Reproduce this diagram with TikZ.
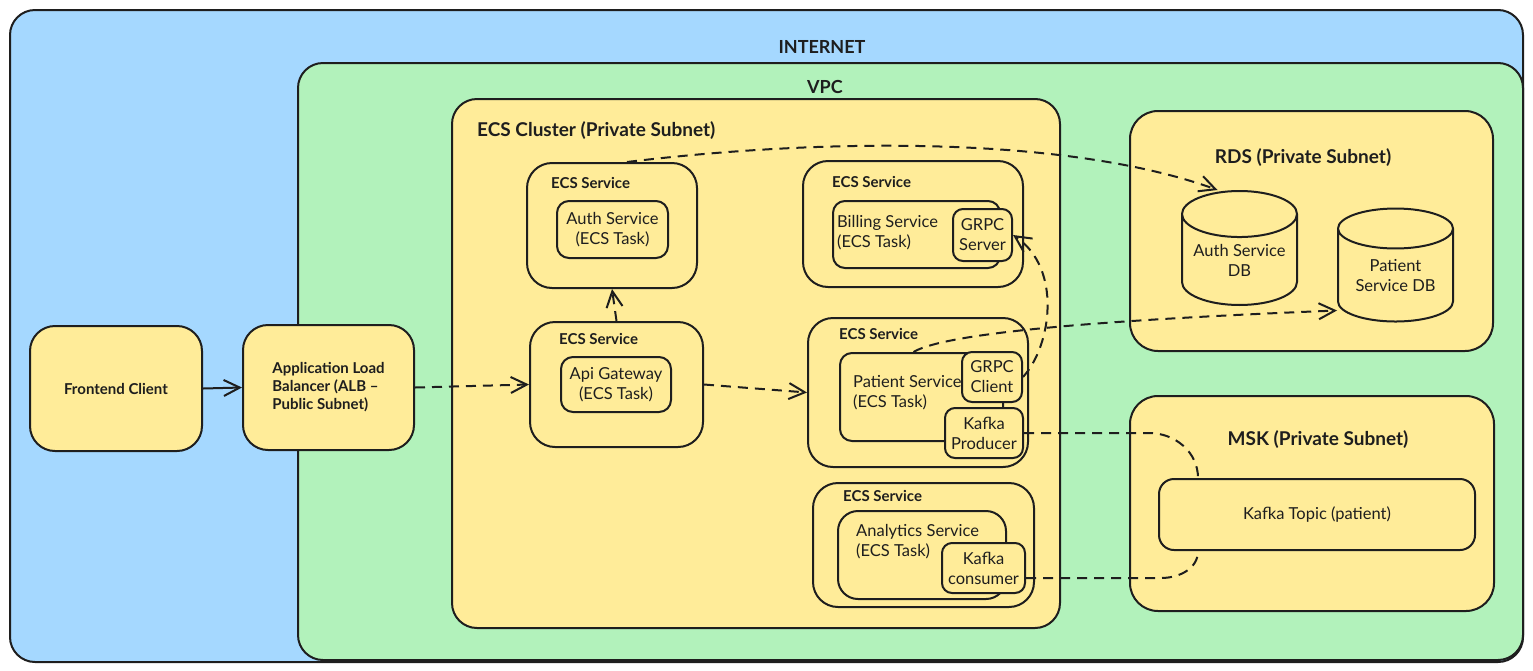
\documentclass[tikz,border=0pt]{standalone}
\usepackage{fontspec}
\setmainfont{Lato}
\usetikzlibrary{positioning, arrows.meta, shapes.geometric}
\definecolor{netblue}{HTML}{A5D8FF}
\definecolor{vpcgreen}{HTML}{B2F2BB}
\definecolor{zoneyellow}{HTML}{FFEC99}
\definecolor{ink}{HTML}{1E1E1E}

\begin{document}
\begin{tikzpicture}[x=1pt, y=-1pt, line join=round,
    box/.style={draw=ink, line width=2pt, fill=zoneyellow, rounded corners=#1,
      inner sep=0pt, align=center, text=ink, font=\fontsize{16.5}{20}\selectfont},
    box/.default=12pt,
    dbase/.style={cylinder, shape border rotate=90, aspect=0.5, draw=ink, line width=2pt,
      fill=zoneyellow, inner sep=0pt, align=center, text=ink, font=\fontsize{16.5}{20}\selectfont},
    heading/.style={inner sep=0pt, text=ink, font=\bfseries\fontsize{19}{22}\selectfont},
    svctitle/.style={inner sep=0pt, anchor=west, text=ink, font=\bfseries\fontsize{15}{18}\selectfont},
    tasktext/.style={inner sep=0pt, anchor=west, align=left, text=ink, font=\fontsize{16.5}{20}\selectfont},
    flow/.style={draw=ink, line width=2pt, -{Straight Barb[length=16pt, width=16pt]}},
    dflow/.style={flow, dash pattern=on 10pt off 7pt},
    link/.style={draw=ink, line width=2pt, dash pattern=on 10pt off 7pt}]

\useasboundingbox (0,0) rectangle (1533,670);

% outer zones
\node[box=25pt, fill=netblue, minimum width=1513pt, minimum height=652pt] (internet) at (766.5,336) {};
\node[heading, font=\bfseries\fontsize{18}{22}\selectfont] (internet-title) at (822,47) {INTERNET};
\node[box=25pt, fill=vpcgreen, minimum width=1225pt, minimum height=597pt] (vpc) at (910.5,361.5) {};
\node[heading, font=\bfseries\fontsize{18}{22}\selectfont] (vpc-title) at (825,87) {VPC};

% clients
\node[box=25pt, minimum width=172pt, minimum height=125pt, font=\bfseries\fontsize{15}{18}\selectfont] (frontend) at (116,388.5) {Frontend Client};
\node[box=25pt, minimum width=171pt, minimum height=125pt, align=left, font=\bfseries\fontsize{15}{18}\selectfont] (alb) at (328.5,387.5) {Application Load\\Balancer (ALB –\\Public Subnet)};

% ECS cluster
\node[box=25pt, minimum width=608pt, minimum height=529pt] (cluster) at (756,363.5) {};
\node[heading, anchor=west] (cluster-title) at (477,131) {ECS Cluster (Private Subnet)};

\node[box=25pt, minimum width=170pt, minimum height=125pt] (authsvc) at (612,225.5) {};
\node[svctitle] (authsvc-title) at (551,183) {ECS Service};
\node[box, minimum width=111pt, minimum height=57pt] (authtask) at (612.5,229.5) {Auth Service\\(ECS Task)};

\node[box=25pt, minimum width=220pt, minimum height=126pt] (billsvc) at (913,224) {};
\node[svctitle] (billsvc-title) at (832,182) {ECS Service};
\node[box, minimum width=167pt, minimum height=67pt] (billtask) at (916.5,234.5) {};
\node[tasktext] (billtask-text) at (837,233) {Billing Service\\(ECS Task)};
\node[box=10pt, minimum width=59pt, minimum height=52pt] (grpcsrv) at (982.5,235) {GRPC\\Server};

\node[box=25pt, minimum width=173pt, minimum height=125pt] (gwsvc) at (616.5,384.5) {};
\node[svctitle] (gwsvc-title) at (559,339) {ECS Service};
\node[box, minimum width=110pt, minimum height=55pt] (gwtask) at (616,384.5) {Api Gateway\\(ECS Task)};

\node[box=25pt, minimum width=220pt, minimum height=149pt] (patsvc) at (918,392.5) {};
\node[svctitle] (patsvc-title) at (839,334) {ECS Service};
\node[box, minimum width=163pt, minimum height=88pt] (pattask) at (921.5,397) {};
\node[tasktext] (pattask-text) at (853,393) {Patient Service\\(ECS Task)};
\node[box=10pt, minimum width=60pt, minimum height=50pt] (grpccli) at (992,377) {GRPC\\Client};
\node[box=10pt, minimum width=78pt, minimum height=50pt] (kprod) at (984,433) {Kafka\\Producer};

\node[box=25pt, minimum width=221pt, minimum height=124pt] (anasvc) at (923.5,545) {};
\node[svctitle] (anasvc-title) at (843,496) {ECS Service};
\node[box=20pt, minimum width=168pt, minimum height=88pt] (anatask) at (922,555) {};
\node[tasktext] (anatask-text) at (856,542) {Analytics Service\\(ECS Task)};
\node[box=10pt, minimum width=83pt, minimum height=50pt] (kcons) at (983.5,568) {Kafka\\consumer};

% RDS
\node[box=28pt, minimum width=363pt, minimum height=240pt] (rds) at (1311.5,231) {};
\node[heading] (rds-title) at (1303,158) {RDS (Private Subnet)};
\node[dbase, minimum width=115pt, minimum height=114pt] (authdb) at (1239.5,260) {Auth Service\\DB};
\node[dbase, minimum width=115pt, minimum height=113pt] (patdb) at (1395.5,275.5) {Patient\\Service DB};

% MSK
\node[box=28pt, minimum width=364pt, minimum height=215pt] (msk) at (1312,503.5) {};
\node[heading] (msk-title) at (1318,440) {MSK (Private Subnet)};
\node[box=15pt, minimum width=316pt, minimum height=71pt] (topic) at (1317,514.5) {Kafka Topic (patient)};

% connectors
\draw[flow] (frontend.east) -- (alb.west);
\draw[dflow] (alb.east) -- (gwsvc.west);
\draw[dflow] (gwsvc.north) -- (authsvc.south);
\draw[dflow] (gwsvc.east) -- (patsvc.west);
\draw[dflow] ([xshift=15pt]authsvc.north) .. controls (850,135) and (1080,140) .. ([xshift=-22pt]authdb.north);
\draw[dflow] ([xshift=-8pt]pattask.north) .. controls (950,330) and (1150,318) .. ([yshift=-35pt]patdb.west);
\draw[dflow] (grpccli.east) .. controls (1052,345) and (1062,268) .. (grpcsrv.east);
\draw[link] (kprod.east) -- ++(125,0) to[out=0, in=90] ([xshift=40pt]topic.north west);
\draw[link] ([yshift=-10pt]kcons.east) -- ++(135,0) to[out=0, in=-90] ([xshift=40pt]topic.south west);

\end{tikzpicture}
\end{document}
